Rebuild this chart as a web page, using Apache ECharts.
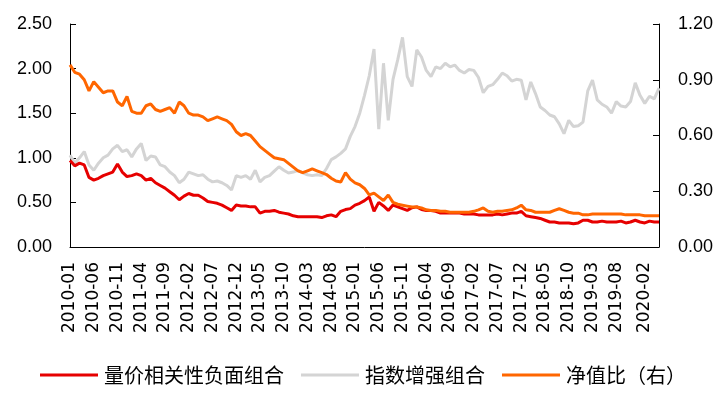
<!DOCTYPE html>
<html>
<head>
<meta charset="utf-8">
<script src="https://cdn.jsdelivr.net/npm/echarts@6.0.0/dist/echarts.min.js"></script>
<style>
  html, body { margin: 0; padding: 0; background: #fff; }
  #chart { width: 726px; height: 396px; }
</style>
</head>
<body>
<div id="chart"></div>
<script>
// 月度日期 2010-01 ~ 2020-05
const months = []
for (let y = 2010; y <= 2020; y++) {
  for (let m = 1; m <= 12; m++) {
    if (y === 2020 && m > 5) break
    months.push(y + '-' + (m < 10 ? '0' + m : m))
  }
}

// 横轴显示的标签
const tickLabels = [
  '2010-01', '2010-06', '2010-11', '2011-04', '2011-09', '2012-02', '2012-07',
  '2012-12', '2013-05', '2013-10', '2014-03', '2014-08', '2015-01', '2015-06',
  '2015-11', '2016-04', '2016-09', '2017-02', '2017-07', '2017-12', '2018-05',
  '2018-10', '2019-03', '2019-08', '2020-02'
]

// 量价相关性负面组合（左轴）
const negData = [
  0.97, 0.91, 0.94, 0.92, 0.78, 0.75, 0.77, 0.80, 0.82, 0.84,
  0.93, 0.84, 0.79, 0.80, 0.82, 0.80, 0.75, 0.77, 0.72, 0.69,
  0.66, 0.62, 0.58, 0.53, 0.57, 0.60, 0.58, 0.58, 0.55, 0.51,
  0.50, 0.49, 0.47, 0.44, 0.41, 0.47, 0.46, 0.46, 0.45, 0.45,
  0.38, 0.40, 0.40, 0.41, 0.39, 0.38, 0.37, 0.35, 0.34, 0.34,
  0.34, 0.34, 0.34, 0.33, 0.35, 0.36, 0.34, 0.40, 0.42, 0.43,
  0.47, 0.49, 0.52, 0.56, 0.40, 0.50, 0.46, 0.41, 0.47, 0.45,
  0.43, 0.41, 0.44, 0.45, 0.42, 0.41, 0.41, 0.40, 0.38, 0.38,
  0.38, 0.38, 0.38, 0.37, 0.37, 0.37, 0.36, 0.36, 0.36, 0.36,
  0.37, 0.36, 0.37, 0.38, 0.38, 0.40, 0.35, 0.34, 0.33, 0.32,
  0.30, 0.28, 0.28, 0.27, 0.27, 0.27, 0.26, 0.27, 0.30, 0.30,
  0.28, 0.28, 0.29, 0.28, 0.28, 0.28, 0.29, 0.27, 0.28, 0.30,
  0.28, 0.27, 0.29, 0.28, 0.28
]

// 指数增强组合（左轴）
const enhData = [
  1.03, 0.94, 1.00, 1.07, 0.92, 0.86, 0.94, 1.00, 1.03, 1.10,
  1.14, 1.07, 1.09, 1.01, 1.10, 1.16, 0.97, 1.02, 1.01, 0.92,
  0.90, 0.84, 0.80, 0.72, 0.76, 0.84, 0.82, 0.80, 0.81, 0.76,
  0.73, 0.74, 0.72, 0.69, 0.64, 0.80, 0.78, 0.80, 0.76, 0.86,
  0.73, 0.78, 0.80, 0.85, 0.90, 0.86, 0.83, 0.84, 0.86, 0.83,
  0.81, 0.80, 0.81, 0.80, 0.88, 0.98, 1.01, 1.05, 1.10, 1.24,
  1.35, 1.50, 1.70, 1.92, 2.22, 1.32, 2.06, 1.42, 1.88, 2.10,
  2.35, 1.91, 1.80, 2.21, 2.13, 1.98, 1.91, 2.02, 2.00, 2.06,
  2.02, 2.04, 1.98, 1.95, 1.99, 1.98, 1.90, 1.73, 1.80, 1.82,
  1.88, 1.95, 1.92, 1.86, 1.88, 1.87, 1.65, 1.85, 1.72, 1.57,
  1.53, 1.48, 1.46, 1.38, 1.27, 1.42, 1.35, 1.36, 1.40, 1.75,
  1.87, 1.65, 1.60, 1.57, 1.50, 1.63, 1.58, 1.57, 1.63, 1.84,
  1.70, 1.61, 1.69, 1.66, 1.78
]

// 净值比（右轴）
const ratioData = [
  0.98, 0.94, 0.93, 0.90, 0.84, 0.89, 0.86, 0.83, 0.84, 0.84,
  0.78, 0.76, 0.81, 0.73, 0.72, 0.72, 0.76, 0.77, 0.74, 0.73,
  0.74, 0.75, 0.72, 0.78, 0.76, 0.72, 0.71, 0.71, 0.70, 0.68,
  0.69, 0.70, 0.69, 0.68, 0.66, 0.62, 0.60, 0.61, 0.60, 0.57,
  0.54, 0.52, 0.50, 0.48, 0.475, 0.47, 0.45, 0.43, 0.41, 0.40,
  0.41, 0.42, 0.41, 0.40, 0.39, 0.37, 0.355, 0.35, 0.40, 0.365,
  0.345, 0.335, 0.315, 0.28, 0.29, 0.27, 0.25, 0.28, 0.24, 0.23,
  0.225, 0.22, 0.215, 0.215, 0.21, 0.20, 0.197, 0.197, 0.192, 0.192,
  0.187, 0.187, 0.187, 0.187, 0.187, 0.192, 0.20, 0.21, 0.192, 0.187,
  0.192, 0.192, 0.197, 0.20, 0.21, 0.225, 0.20, 0.197, 0.187, 0.187,
  0.187, 0.187, 0.197, 0.206, 0.197, 0.187, 0.182, 0.182, 0.173, 0.173,
  0.178, 0.178, 0.178, 0.178, 0.178, 0.178, 0.178, 0.173, 0.173, 0.173,
  0.173, 0.168, 0.168, 0.168, 0.168
]

const font = 'Liberation Sans, Arial, sans-serif'
const cjkFont = '"Noto Sans CJK SC", "Liberation Sans", sans-serif'

const chart = echarts.init(document.getElementById('chart'))

const option = {
  animation: false,
  backgroundColor: '#fff',
  grid: { left: 70, right: 67, top: 24, bottom: 149 },
  legend: {
    left: 'center',
    top: 360,
    icon: 'rect',
    itemWidth: 58,
    itemHeight: 3,
    itemGap: 17,
    textStyle: { fontFamily: cjkFont, fontSize: 20, color: '#000', padding: [0, 0, 0, 1] },
    data: ['量价相关性负面组合', '指数增强组合', '净值比（右）']
  },
  xAxis: {
    type: 'category',
    data: months,
    boundaryGap: false,
    axisLine: { lineStyle: { color: '#000', width: 1 } },
    axisTick: { show: false },
    axisLabel: {
      rotate: 90,
      margin: 15,
      color: '#000',
      fontFamily: '"DejaVu Sans", sans-serif',
      fontSize: 17,
      interval: (idx, value) => tickLabels.includes(value)
    },
    splitLine: { show: false }
  },
  yAxis: [
    {
      type: 'value',
      min: 0,
      max: 2.5,
      interval: 0.5,
      axisLine: { show: true, lineStyle: { color: '#000', width: 1 } },
      axisTick: { show: true, inside: true, length: 6, lineStyle: { color: '#000' } },
      axisLabel: { margin: 18, color: '#000', fontFamily: font, fontSize: 18, formatter: v => v.toFixed(2) },
      splitLine: { show: false }
    },
    {
      type: 'value',
      min: 0,
      max: 1.2,
      interval: 0.3,
      position: 'right',
      axisLine: { show: true, lineStyle: { color: '#000', width: 1 } },
      axisTick: { show: true, inside: true, length: 6, lineStyle: { color: '#000' } },
      axisLabel: { margin: 19, color: '#000', fontFamily: font, fontSize: 18, formatter: v => v.toFixed(2) },
      splitLine: { show: false }
    }
  ],
  series: [
    {
      name: '量价相关性负面组合',
      type: 'line',
      data: negData,
      yAxisIndex: 0,
      symbol: 'none',
      z: 3,
      lineStyle: { color: '#E60000', width: 3 },
      itemStyle: { color: '#E60000' }
    },
    {
      name: '指数增强组合',
      type: 'line',
      data: enhData,
      yAxisIndex: 0,
      symbol: 'none',
      z: 2,
      lineStyle: { color: '#D4D4D4', width: 3 },
      itemStyle: { color: '#D4D4D4' }
    },
    {
      name: '净值比（右）',
      type: 'line',
      data: ratioData,
      yAxisIndex: 1,
      symbol: 'none',
      z: 4,
      lineStyle: { color: '#FF6600', width: 3 },
      itemStyle: { color: '#FF6600' }
    }
  ]
}

chart.setOption(option)
</script>
</body>
</html>
